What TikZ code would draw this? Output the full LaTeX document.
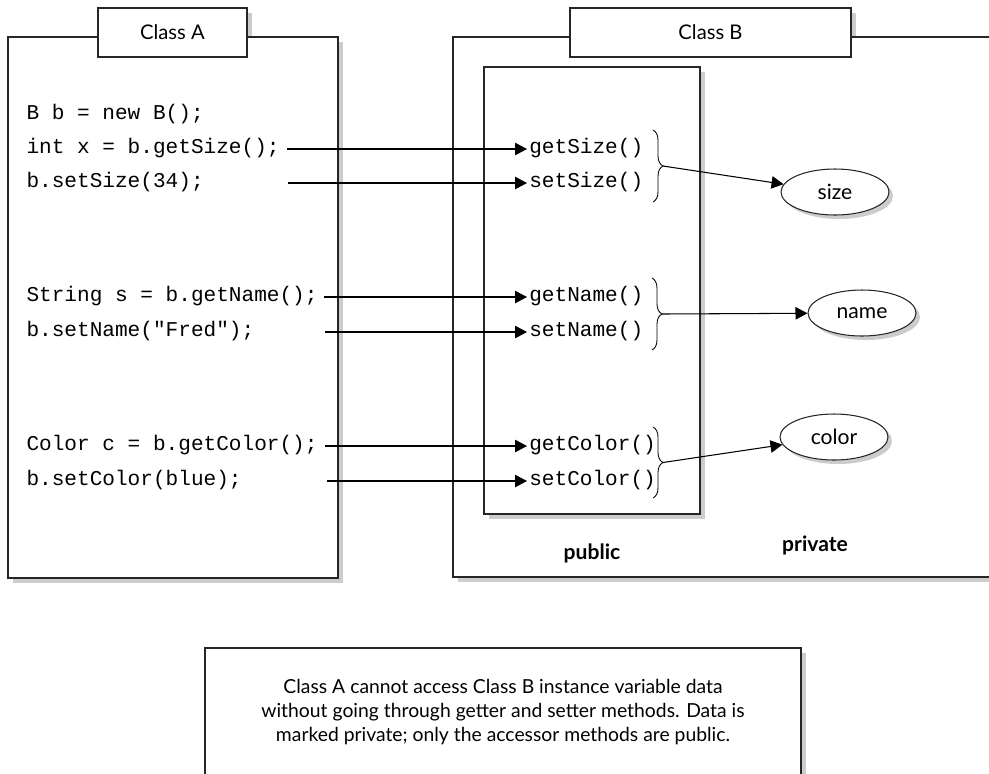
\documentclass[tikz,border=0pt]{standalone}
\usepackage{fontspec}
\setmainfont{Lato}
\newfontfamily\codefont{Liberation Mono}
\usetikzlibrary{arrows.meta, shapes.geometric, shadows, decorations.pathreplacing}

\begin{document}
\begin{tikzpicture}[>={Triangle[length=0.24cm, width=0.25cm]}, line width=0.6pt,
  shade/.style={fill=black!20},
  frame/.style={draw=black!85, fill=white},
  title/.style={frame, minimum height=0.98cm, inner sep=0pt, font=\fontsize{11.5}{13}\selectfont},
  code/.style={anchor=west, inner sep=0pt, text height=1.5ex, text depth=0.4ex,
    font=\codefont\fontsize{12}{14}\selectfont},
  meth/.style={code, inner sep=1pt},
  field/.style={ellipse, frame, minimum width=2.16cm, minimum height=0.92cm, inner sep=0pt,
    font=\fontsize{12}{14}\selectfont,
    drop shadow={shadow xshift=0.08cm, shadow yshift=-0.08cm, fill=black!20, opacity=1}},
  grp/.style={decorate, decoration={brace, amplitude=0.2cm}, line width=0.5pt},
  side/.style={font=\bfseries\fontsize{12}{14}\selectfont}]
  \useasboundingbox (0,0) rectangle (19.78,-15.46);
  \clip (0,0) rectangle (19.78,-15.46);

  \fill[shade] (2.06,-0.26) rectangle (5.04,-1.24);
  \fill[shade] (0.26,-0.84) rectangle (6.86,-11.66);
  \draw[frame] (0.16,-0.74) rectangle (6.76,-11.56);
  \node[title, minimum width=2.98cm] (classa) at (3.45,-0.65) {Class A};

  \fill[shade] (11.5,-0.26) rectangle (17.12,-1.24);
  \fill[shade] (9.16,-0.84) rectangle (20.5,-11.64);
  \draw[frame] (9.06,-0.74) rectangle (20.5,-11.54);
  \node[title, minimum width=5.62cm] (classb) at (14.21,-0.65) {Class B};
  \fill[shade] (9.78,-1.44) rectangle (14.1,-10.38);
  \draw[frame] (9.68,-1.34) rectangle (14.0,-10.28);

  \node[code] (cnew) at (0.52,-2.30) {B b = new B();};
  \node[code] (cgetsize) at (0.52,-2.98) {int x = b.getSize();};
  \node[code] (csetsize) at (0.52,-3.66) {b.setSize(34);};
  \node[code] (cgetname) at (0.52,-5.94) {String s = b.getName();};
  \node[code] (csetname) at (0.52,-6.64) {b.setName("Fred");};
  \node[code] (cgetcolor) at (0.52,-8.92) {Color c = b.getColor();};
  \node[code] (csetcolor) at (0.52,-9.62) {b.setColor(blue);};

  \node[meth] (getsize) at (10.54,-2.98) {getSize()};
  \node[meth] (setsize) at (10.54,-3.66) {setSize()};
  \node[meth] (getname) at (10.54,-5.94) {getName()};
  \node[meth] (setname) at (10.54,-6.64) {setName()};
  \node[meth] (getcolor) at (10.54,-8.92) {getColor()};
  \node[meth] (setcolor) at (10.54,-9.62) {setColor()};

  \coordinate (tgetsize) at (5.74,-2.98);
  \coordinate (tsetsize) at (5.76,-3.66);
  \coordinate (tgetname) at (6.48,-5.94);
  \coordinate (tsetname) at (6.5,-6.64);
  \coordinate (tgetcolor) at (6.5,-8.92);
  \coordinate (tsetcolor) at (6.54,-9.62);
  \draw[->] (tgetsize) -- (getsize);
  \draw[->] (tsetsize) -- (setsize);
  \draw[->] (tgetname) -- (getname);
  \draw[->] (tsetname) -- (setname);
  \draw[->] (tgetcolor) -- (getcolor);
  \draw[->] (tsetcolor) -- (setcolor);

  \draw[grp] (13.06,-2.6) -- (13.06,-4.04);
  \draw[grp] (13.04,-5.56) -- (13.04,-7.0);
  \draw[grp] (13.06,-8.54) -- (13.06,-9.96);
  \coordinate (bsize) at (13.26,-3.32);
  \coordinate (bname) at (13.24,-6.28);
  \coordinate (bcolor) at (13.26,-9.25);

  \node[field] (size) at (16.7,-3.84) {size};
  \node[field] (name) at (17.24,-6.26) {name};
  \node[field] (color) at (16.68,-8.74) {color};
  \draw[->] (bsize) -- (size);
  \draw[->] (bname) -- (name);
  \draw[->] (bcolor) -- (color);

  \node[side] (public) at (11.84,-11.06) {public};
  \node[side] (private) at (16.3,-10.9) {private};

  \fill[shade] (4.2,-13.06) rectangle (16.12,-16);
  \draw[frame] (4.1,-12.96) rectangle (16.02,-16);
  \node[align=center, font=\fontsize{11}{13.7}\selectfont] (note) at (10.06,-14.24)
    {Class A cannot access Class B instance variable data\\
     without going through getter and setter methods. Data is\\
     marked private; only the accessor methods are public.};
\end{tikzpicture}
\end{document}
